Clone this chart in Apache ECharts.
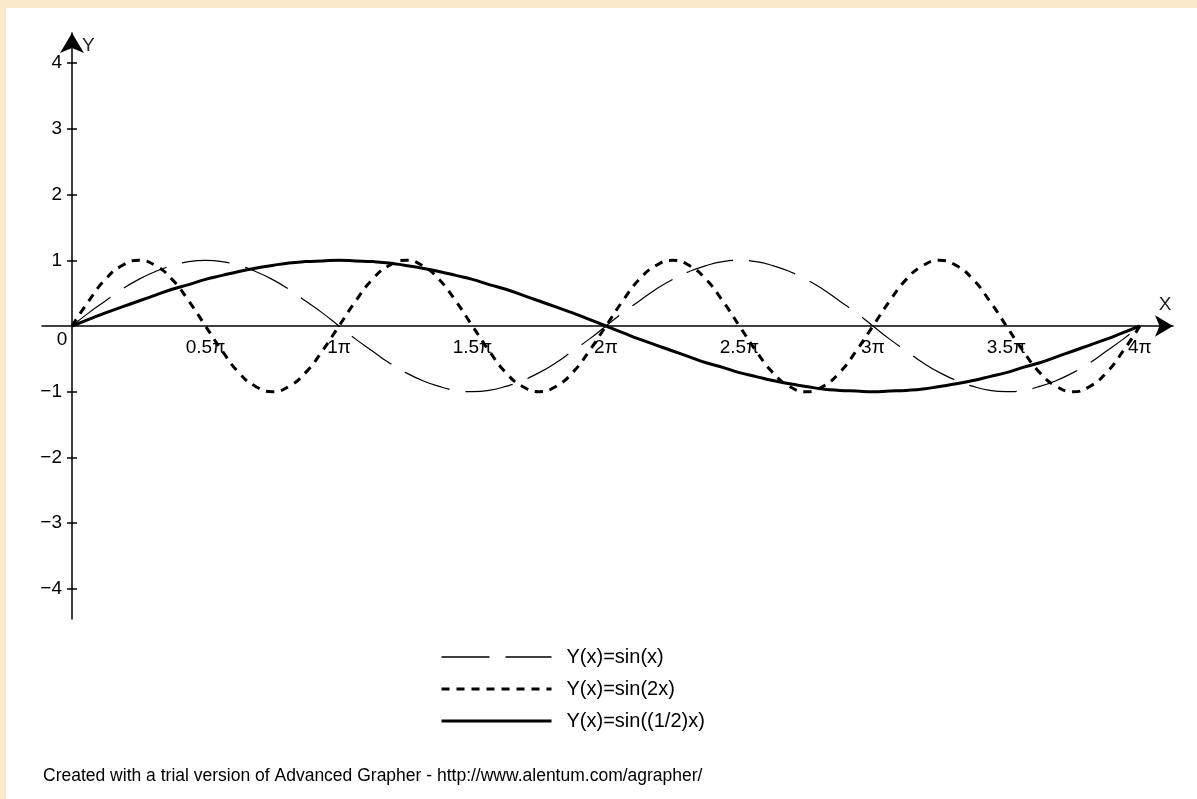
<!DOCTYPE html>
<html>
<head>
<meta charset="utf-8">
<script src="https://cdn.jsdelivr.net/npm/echarts@6/dist/echarts.min.js"></script>
<style>
html,body{margin:0;padding:0;background:#fff;}
#chart{width:1197px;height:799px;}
</style>
</head>
<body>
<div id="chart"></div>
<script>
// x positions in multiples of pi
const xPi = [0,0.0625,0.125,0.1875,0.25,0.3125,0.375,0.4375,0.5,0.5625,0.625,0.6875,0.75,0.8125,0.875,0.9375,
  1,1.0625,1.125,1.1875,1.25,1.3125,1.375,1.4375,1.5,1.5625,1.625,1.6875,1.75,1.8125,1.875,1.9375,
  2,2.0625,2.125,2.1875,2.25,2.3125,2.375,2.4375,2.5,2.5625,2.625,2.6875,2.75,2.8125,2.875,2.9375,
  3,3.0625,3.125,3.1875,3.25,3.3125,3.375,3.4375,3.5,3.5625,3.625,3.6875,3.75,3.8125,3.875,3.9375,4];

const sinX = [0,.2,.38,.56,.71,.83,.92,.98,1,.98,.92,.83,.71,.56,.38,.2,
  0,-.2,-.38,-.56,-.71,-.83,-.92,-.98,-1,-.98,-.92,-.83,-.71,-.56,-.38,-.2,
  0,.2,.38,.56,.71,.83,.92,.98,1,.98,.92,.83,.71,.56,.38,.2,
  0,-.2,-.38,-.56,-.71,-.83,-.92,-.98,-1,-.98,-.92,-.83,-.71,-.56,-.38,-.2,0];

const sin2X = [0,.38,.71,.92,1,.92,.71,.38,0,-.38,-.71,-.92,-1,-.92,-.71,-.38,
  0,.38,.71,.92,1,.92,.71,.38,0,-.38,-.71,-.92,-1,-.92,-.71,-.38,
  0,.38,.71,.92,1,.92,.71,.38,0,-.38,-.71,-.92,-1,-.92,-.71,-.38,
  0,.38,.71,.92,1,.92,.71,.38,0,-.38,-.71,-.92,-1,-.92,-.71,-.38,0];

const sinHalfX = [0,.1,.2,.29,.38,.47,.56,.63,.71,.77,.83,.88,.92,.96,.98,.99,
  1,.99,.98,.96,.92,.88,.83,.77,.71,.63,.56,.47,.38,.29,.2,.1,
  0,-.1,-.2,-.29,-.38,-.47,-.56,-.63,-.71,-.77,-.83,-.88,-.92,-.96,-.98,-.99,
  -1,-.99,-.98,-.96,-.92,-.88,-.83,-.77,-.71,-.63,-.56,-.47,-.38,-.29,-.2,-.1,0];

const seriesNames = ['Y(x)=sin(x)', 'Y(x)=sin(2x)', 'Y(x)=sin((1/2)x)'];
const xTicks = [0.5,1,1.5,2,2.5,3,3.5,4];
const yTicks = [-4,-3,-2,-1,1,2,3,4];
const footer = 'Created with a trial version of Advanced Grapher - http://www.alentum.com/agrapher/';

const FONT = '"Liberation Sans", Arial, sans-serif';
const pairs = arr => xPi.map((x, i) => [x, arr[i]]);

const GRID = {left: 42, right: 24, top: 33, bottom: 180};
const W = 1197, H = 799;

const chart = echarts.init(document.getElementById('chart'), null, {renderer: 'canvas'});
const option = {
  backgroundColor: '#ffffff',
  animation: false,
  textStyle: {fontFamily: FONT},
  title: {
    text: footer, left: 38, top: 762,
    textStyle: {fontFamily: FONT, fontWeight: 'normal', fontSize: 17.5, color: '#000'}
  },
  legend: {
    orient: 'vertical', left: 440, top: 647, padding: 0,
    itemWidth: 110, itemHeight: 18, itemGap: 12,
    data: seriesNames.map((n, i) => ({name: n, lineStyle: {width: i === 0 ? 1.5 : 3}})),
    itemStyle: {color: 'rgba(0,0,0,0)', borderWidth: 0, opacity: 0},
    textStyle: {fontFamily: FONT, fontSize: 20, color: '#000', padding: [0,0,0,10]},
    selectedMode: false
  },
  grid: Object.assign({containLabel: false}, GRID),
  xAxis: {
    type: 'value', min: -0.1124, max: 4.124, position: 'bottom', offset: 0,
    name: 'X', nameLocation: 'end', nameGap: -8,
    nameTextStyle: {fontFamily: FONT, fontSize: 19, color: '#222', align: 'center', verticalAlign: 'bottom', padding: [0,0,12,0]},
    axisLine: {show: true, onZero: false, symbol: ['none','arrow'], symbolSize: [16, 18],
      lineStyle: {color: '#000', width: 1.5}},
    axisTick: {show: false},
    splitLine: {show: false},
    axisLabel: {customValues: xTicks, formatter: v => v + 'π', margin: 12,
      fontFamily: FONT, fontSize: 19, color: '#000'}
  },
  yAxis: [{
    type: 'value', min: -4.46, max: 4.46, position: 'left', offset: 0,
    name: 'Y', nameLocation: 'end', nameGap: -22,
    nameTextStyle: {fontFamily: FONT, fontSize: 19, color: '#222', align: 'left', padding: [0,0,0,10]},
    axisLine: {show: true, onZero: false, symbol: ['none','arrow'], symbolSize: [18, 20],
      lineStyle: {color: '#000', width: 1.5}},
    axisTick: {show: true, customValues: yTicks, length: 5, lineStyle: {color: '#000', width: 1.5}},
    splitLine: {show: false},
    axisLabel: {customValues: yTicks, formatter: v => (v < 0 ? '\u2212' + (-v) : String(v)),
      margin: 10, fontFamily: FONT, fontSize: 19, color: '#000'}
  }, {
    type: 'value', min: -4.46, max: 4.46, position: 'right', offset: 0,
    axisLine: {show: false, onZero: false},
    axisTick: {show: true, customValues: yTicks, length: 5, lineStyle: {color: '#000', width: 1.5}},
    splitLine: {show: false},
    axisLabel: {show: false}
  }],
  series: [{
    name: seriesNames[0], type: 'line', smooth: true, symbol: 'none',
    data: pairs(sinX),
    lineStyle: {color: '#000', width: 1.2, type: [48, 16]},
    itemStyle: {color: '#000'}
  }, {
    name: seriesNames[1], type: 'line', smooth: true, symbol: 'none',
    data: pairs(sin2X),
    lineStyle: {color: '#000', width: 3, type: [8, 7]},
    itemStyle: {color: '#000'}
  }, {
    name: seriesNames[2], type: 'line', smooth: true, symbol: 'none',
    data: pairs(sinHalfX),
    lineStyle: {color: '#000', width: 3, type: 'solid'},
    itemStyle: {color: '#000'}
  }]
};
chart.setOption(option);

// place the axes so they cross at the data origin
const origin = chart.convertToPixel({gridIndex: 0}, [0, 0]);
const gridBottomPx = H - GRID.bottom;
const gridRightPx = W - GRID.right;
chart.setOption({
  xAxis: {offset: -(gridBottomPx - origin[1])},
  yAxis: [{offset: -(origin[0] - GRID.left)}, {offset: -(gridRightPx - origin[0])}],
  graphic: [
    {type: 'rect', left: 0, top: 0, shape: {width: W, height: 8}, style: {fill: '#FBEACB'}, silent: true},
    {type: 'rect', left: 0, top: 0, shape: {width: 6, height: H}, style: {fill: '#FBEACB'}, silent: true},
    {type: 'text', x: origin[0] - 10, y: origin[1] + 14,
      style: {text: '0', font: '19px ' + FONT, fill: '#000', align: 'center', verticalAlign: 'middle'}}
  ]
});
</script>
</body>
</html>
